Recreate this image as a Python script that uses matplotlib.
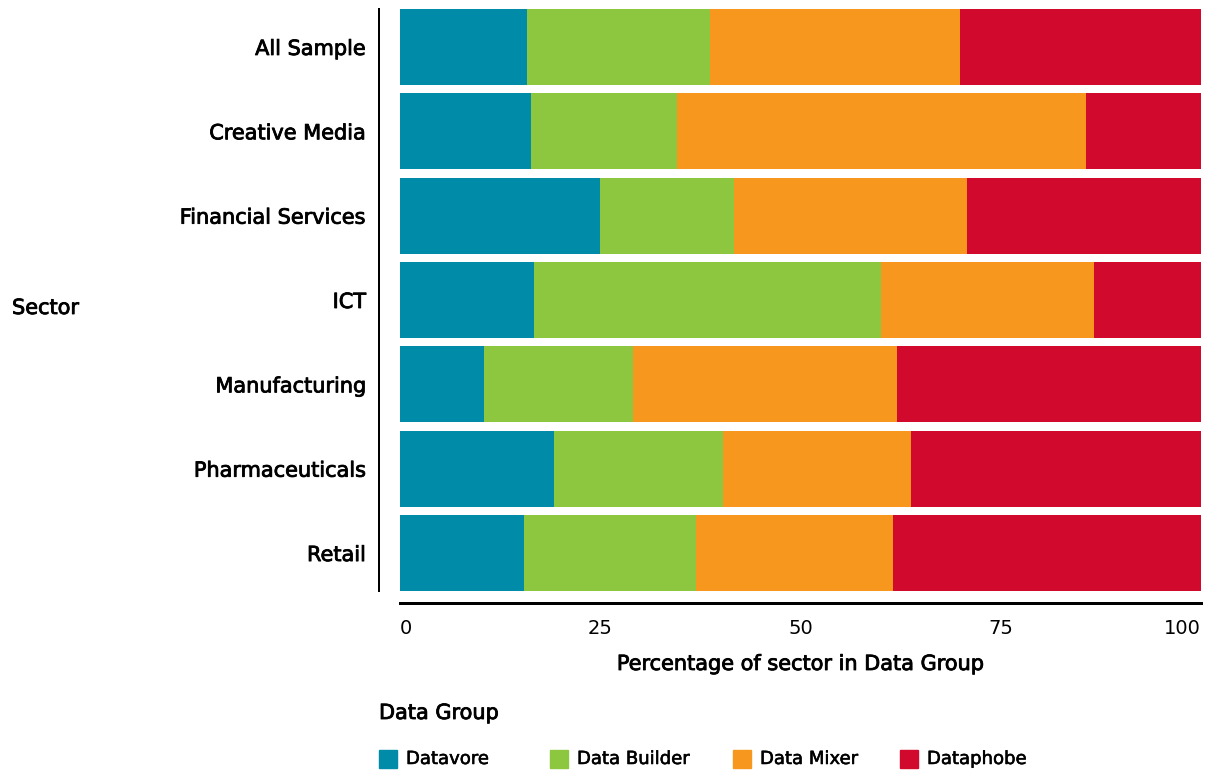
import matplotlib
matplotlib.use("Agg")
import matplotlib.pyplot as plt
import matplotlib.patheffects as pe
from matplotlib.patches import Rectangle

plt.rcParams['font.family'] = ['DejaVu Sans']

sectors = ["All Sample", "Creative Media", "Financial Services", "ICT",
           "Manufacturing", "Pharmaceuticals", "Retail"]
groups = ["Datavore", "Data Builder", "Data Mixer", "Dataphobe"]
colors = ["#008CA8", "#8DC63F", "#F7971E", "#D10A2D"]

datavore = [15.9, 16.4, 25.0, 16.7, 10.5, 19.2, 15.5]
data_builder = [22.8, 18.2, 16.7, 43.3, 18.6, 21.1, 21.5]
data_mixer = [31.2, 51.0, 29.1, 26.6, 32.9, 23.5, 24.5]
dataphobe = [30.1, 14.4, 29.2, 13.4, 38.0, 36.2, 38.5]

xticks = [0, 25, 50, 75, 100]

W, H = 1211, 770
PX = 72 / 100  # points per pixel at dpi 100
# slightly heavier strokes for the label text
medium = [pe.withStroke(linewidth=0.6, foreground='black')]

fig = plt.figure(figsize=(W / 100, H / 100), dpi=100)
ax = fig.add_axes([400 / W, 1 - 591 / H, 801 / W, 582 / H])

series = [datavore, data_builder, data_mixer, dataphobe]
ypos = list(range(len(sectors)))
left = [0.0] * len(sectors)
for vals, col in zip(series, colors):
    ax.barh(ypos, vals, left=left, height=0.9, color=col, linewidth=0)
    left = [a + b for a, b in zip(left, vals)]

# Spines first: moving a spine resets the axis ticks
for s in ['top', 'right']:
    ax.spines[s].set_visible(False)
ax.spines['left'].set_position(('outward', 21 * PX))
ax.spines['left'].set_linewidth(2 * PX)
ax.spines['bottom'].set_position(('outward', 12 * PX))
ax.spines['bottom'].set_linewidth(3 * PX)

ax.set_xlim(0, 100)
ax.set_ylim(len(sectors) - 0.55, -0.45)
ax.tick_params(axis='both', length=0)
ax.tick_params(axis='y', pad=13 * PX, labelsize=15)
ax.tick_params(axis='x', pad=16 * PX, labelsize=14)
ax.set_yticks(ypos)
ax.set_yticklabels(sectors)
ax.set_xticks(xticks)
ax.set_xticklabels([str(t) for t in xticks])
for lab in ax.get_yticklabels():
    lab.set_path_effects(medium)
for lab, t in zip(ax.get_xticklabels(), xticks):
    if t == 0:
        lab.set_ha('left')
    elif t == 100:
        lab.set_ha('right')

ax.set_xlabel("Percentage of sector in Data Group", fontsize=15,
              labelpad=16 * PX, path_effects=medium)
fig.text(12 / W, 1 - 308 / H, "Sector", fontsize=15,
         ha='left', va='center', path_effects=medium)

# Legend
fig.text(379 / W, 1 - 713 / H, "Data Group", fontsize=15,
         ha='left', va='center', path_effects=medium)
leg_x = [379, 550, 733, 900]
for x, name, col in zip(leg_x, groups, colors):
    fig.patches.append(Rectangle((x / W, 1 - 768 / H), 18 / W, 18 / H,
                                 transform=fig.transFigure, color=col))
    fig.text((x + 27) / W, 1 - 759 / H, name, fontsize=13,
             ha='left', va='center',
             path_effects=[pe.withStroke(linewidth=0.4, foreground='black')])

fig.savefig("out.png", dpi=100)
